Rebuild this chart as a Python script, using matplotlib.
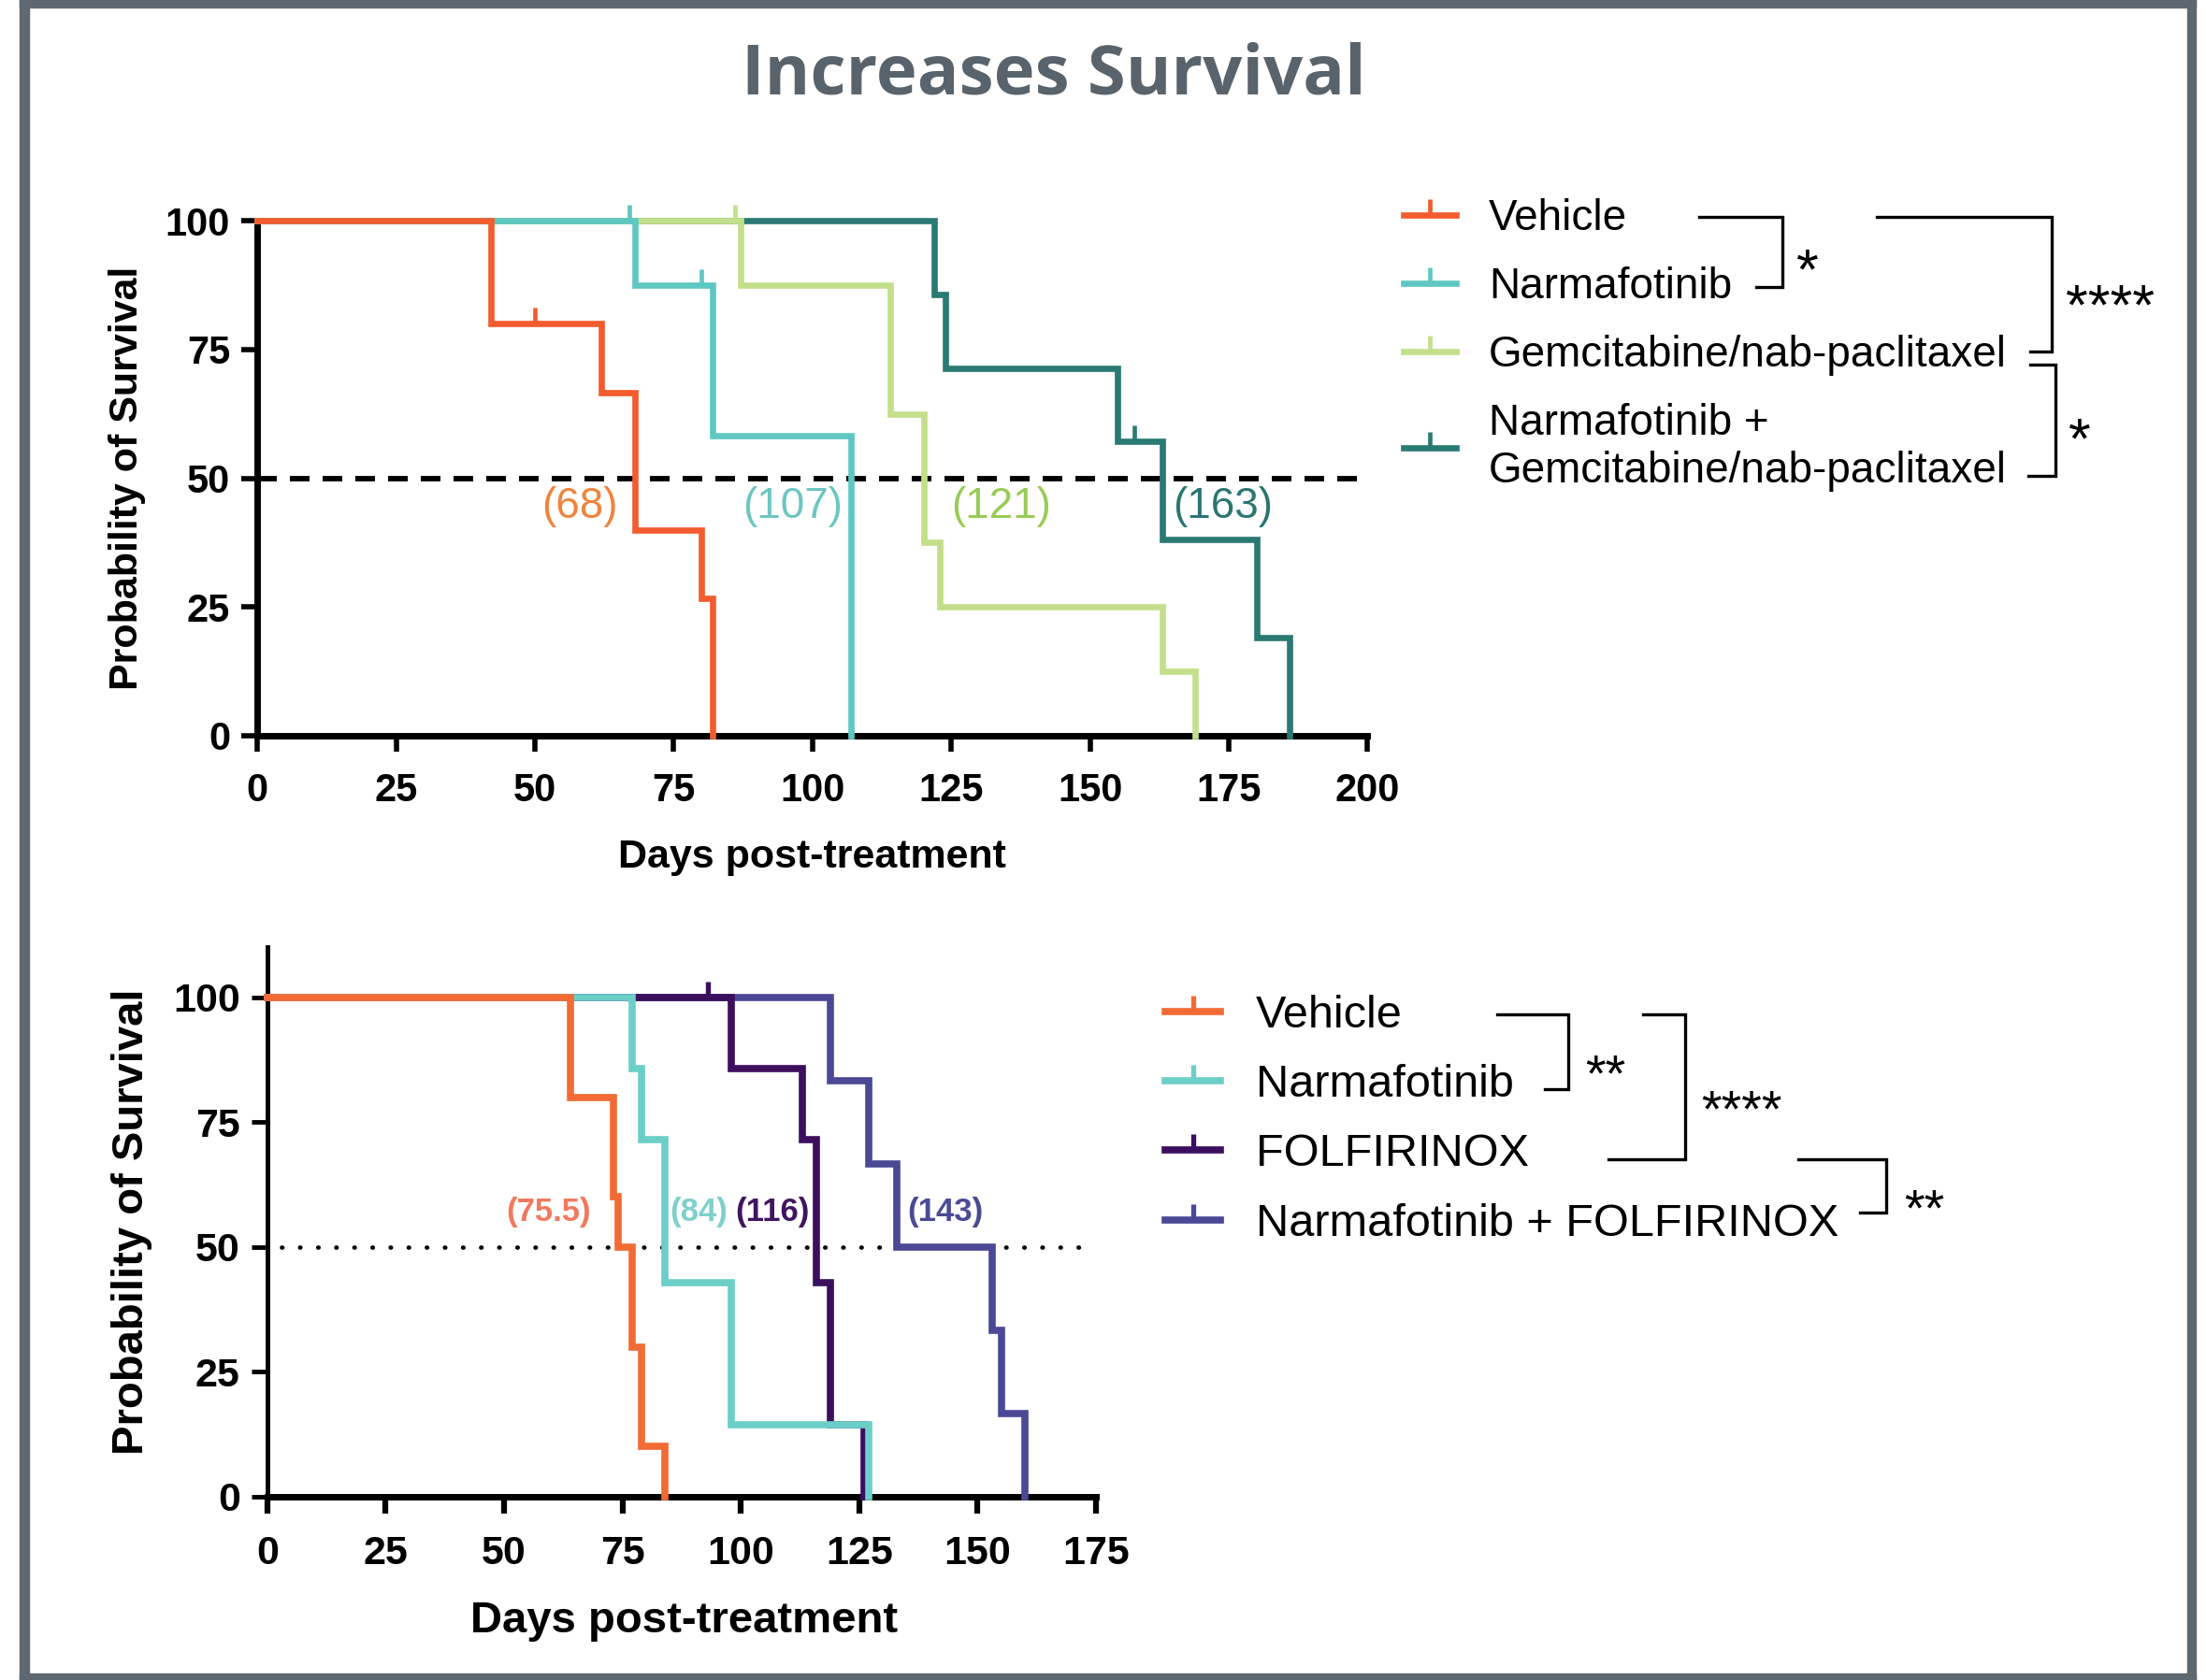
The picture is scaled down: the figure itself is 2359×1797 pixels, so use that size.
import numpy as np
import matplotlib
matplotlib.use("Agg")
import matplotlib.pyplot as plt
from matplotlib.lines import Line2D
from matplotlib.patches import Rectangle

plt.rcParams['font.family'] = ['Liberation Sans', 'DejaVu Sans']

# ---- top panel: gemcitabine/nab-paclitaxel study ----
top_labels = ["Vehicle", "Narmafotinib", "Gemcitabine/nab-paclitaxel",
              "Narmafotinib +\nGemcitabine/nab-paclitaxel"]
top_colors = ['#F25C2E', '#5EC7C2', '#C3DF8B', '#2A7A73']
top_text_colors = ['#F0843C', '#6CC6C2', '#98CB55', '#2B7670']
top_days = [
    [0, 42, 62, 68, 80, 82],
    [0, 68, 82, 107],
    [0, 87, 114, 120, 123, 163, 169],
    [0, 122, 124, 155, 163, 180, 186],
]
top_surv = [
    [100, 80, 66.7, 40, 26.7, 0],
    [100, 87.5, 58.3, 0],
    [100, 87.5, 62.5, 37.5, 25, 12.5, 0],
    [100, 85.7, 71.4, 57.1, 38.1, 19.0, 0],
]
top_censor = [[50], [67, 80], [86], [158]]
top_medians = ["(68)", "(107)", "(121)", "(163)"]
top_median_x = [58, 96.5, 134, 174]
top_xticks = [0, 25, 50, 75, 100, 125, 150, 175, 200]

# ---- bottom panel: FOLFIRINOX study ----
bot_labels = ["Vehicle", "Narmafotinib", "FOLFIRINOX", "Narmafotinib + FOLFIRINOX"]
bot_colors = ['#F26B35', '#6BCFC8', '#3C0F5E', '#4B4996']
bot_text_colors = ['#F07A5E', '#7FD0CB', '#3F1560', '#4B4A94']
bot_days = [
    [0, 64, 73, 74, 77, 79, 84],
    [0, 77, 79, 84, 98, 127],
    [0, 98, 113, 116, 119, 126],
    [0, 119, 127, 133, 153, 155, 160],
]
bot_surv = [
    [100, 80, 60, 50, 30, 10, 0],
    [100, 85.7, 71.4, 42.9, 14.3, 0],
    [100, 85.7, 71.4, 42.9, 14.3, 0],
    [100, 83.3, 66.7, 50, 33.3, 16.7, 0],
]
bot_censor = [[], [], [93], []]
bot_medians = ["(75.5)", "(84)", "(116)", "(143)"]
bot_median_x = [59.4, 91.2, 106.7, 143.2]
bot_xticks = [0, 25, 50, 75, 100, 125, 150, 175]
yticks = [0, 25, 50, 75, 100]


def surv_at(days, surv, t):
    i = np.searchsorted(days, t, side='right') - 1
    return surv[i]


def km_panel(ax, days, surv, censor, colors, lw, tick_size):
    n = len(days)
    for i in range(n):
        z = 10 - i
        ax.step(days[i], surv[i], where='post', color=colors[i], lw=lw,
                solid_joinstyle='miter', zorder=z, clip_on=False)
        if censor[i]:
            cy = [surv_at(days[i], surv[i], t) for t in censor[i]]
            ax.plot(censor[i], cy, ls='none', marker=2, markersize=tick_size,
                    mew=lw * 0.7, color=colors[i], zorder=z, clip_on=False)


fig = plt.figure(figsize=(23.59, 17.97), dpi=100)

# top panel
ax1 = fig.add_axes([0.1167, 0.5621, 0.5032, 0.3065])
km_panel(ax1, top_days, top_surv, top_censor, top_colors, 4.8, 12)
ax1.axhline(50, color='black', lw=4.2, ls=(0, (3.6, 2.4)), zorder=1)
for txt, x, c in zip(top_medians, top_median_x, top_text_colors):
    ax1.text(x, 44.5, txt, color=c, fontsize=33, ha='center', va='center')
ax1.set_xlim(0, 200)
ax1.set_ylim(0, 100)
ax1.set_xticks(top_xticks)
ax1.set_yticks(yticks)
for s in ['top', 'right']:
    ax1.spines[s].set_visible(False)
for s in ['left', 'bottom']:
    ax1.spines[s].set_linewidth(5)
ax1.tick_params(width=4, length=12, labelsize=30, direction='out')
ax1.tick_params(axis='x', pad=16)
ax1.tick_params(axis='y', pad=9)
for lab in ax1.get_xticklabels() + ax1.get_yticklabels():
    lab.set_fontweight('bold')
ax1.set_xlabel("Days post-treatment", fontsize=31, fontweight='bold')
ax1.set_ylabel("Probability of Survival", fontsize=31, fontweight='bold')
ax1.xaxis.set_label_coords(0.4994, -0.2)
ax1.yaxis.set_label_coords(-0.1005, 0.5)
ax1.patch.set_alpha(0)

# bottom panel
ax2 = fig.add_axes([0.1212, 0.1092, 0.3756, 0.3269])
km_panel(ax2, bot_days, bot_surv, bot_censor, bot_colors, 5.5, 12)
ax2.plot([3, 172], [50, 50], color='black', lw=3.4, ls=(0, (0.1, 4.0)),
         dash_capstyle='round', zorder=1)
for txt, x, c in zip(bot_medians, bot_median_x, bot_text_colors):
    ax2.text(x, 57, txt, color=c, fontsize=25, fontweight='bold',
             ha='center', va='center')
ax2.set_xlim(0, 175)
ax2.set_ylim(0, 110)
ax2.set_xticks(bot_xticks)
ax2.set_yticks(yticks)
for s in ['top', 'right']:
    ax2.spines[s].set_visible(False)
ax2.spines['left'].set_linewidth(3.5)
ax2.spines['bottom'].set_linewidth(5)
ax2.tick_params(axis='x', width=4.5, length=13, pad=17, labelsize=31)
ax2.tick_params(axis='y', width=3.5, length=12, pad=9, labelsize=31)
for lab in ax2.get_xticklabels() + ax2.get_yticklabels():
    lab.set_fontweight('bold')
ax2.set_xlabel("Days post-treatment", fontsize=34, fontweight='bold')
ax2.set_ylabel("Probability of Survival", fontsize=34, fontweight='bold')
ax2.xaxis.set_label_coords(0.5025, -0.19)
ax2.yaxis.set_label_coords(-0.139, 0.5)
ax2.patch.set_alpha(0)

# legends
def handles(colors, lw):
    return [Line2D([], [], color=c, lw=lw, marker=2, markersize=12, mew=lw * 0.7)
            for c in colors]

fig.legend(handles(top_colors, 4.8), top_labels, loc='upper left',
           bbox_to_anchor=(998 / 1568, 1 - 141 / 1194), frameon=False,
           borderpad=0, borderaxespad=0, handlelength=1.22, handletextpad=0.76,
           labelspacing=0.63, fontsize=33, numpoints=1)
fig.legend(handles(bot_colors, 5.5), bot_labels, loc='upper left',
           bbox_to_anchor=(828 / 1568, 1 - 707 / 1194), frameon=False,
           borderpad=0, borderaxespad=0, handlelength=1.23, handletextpad=0.77,
           labelspacing=0.6, fontsize=35, numpoints=1)

# overlay in reference pixel units: frame, title, significance brackets
ov = fig.add_axes([0, 0, 1, 1], zorder=5)
ov.set_xlim(0, 1568)
ov.set_ylim(1194, 0)
ov.axis('off')

frame_c = '#5E6870'
ov.add_patch(Rectangle((14, 0), 6.5, 1194, color=frame_c))
ov.add_patch(Rectangle((14, 0), 1547, 5.5, color=frame_c))
ov.add_patch(Rectangle((1555, 0), 6, 1194, color=frame_c))
ov.add_patch(Rectangle((14, 1189.5), 1547, 4.5, color=frame_c))

ov.text(749, 54, "Increases Survival", ha='center', va='center', fontsize=53.5,
        fontweight='bold', color='#59636B', family=['Open Sans', 'DejaVu Sans'])

brackets = [
    ([1208, 1267, 1267, 1248], [154, 154, 204, 204]),
    ([1334, 1458, 1458, 1443], [154, 154, 250, 250]),
    ([1443, 1461, 1461, 1442], [259, 259, 338, 338]),
    ([1064, 1115, 1115, 1098], [721, 721, 774, 774]),
    ([1168, 1198, 1198, 1143], [721, 721, 824, 824]),
    ([1278, 1341, 1341, 1322], [824, 824, 862, 862]),
]
for bx, by in brackets:
    ov.plot(bx, by, color='black', lw=2.4, solid_joinstyle='miter')

stars_top = [("*", 1285, 180), ("****", 1500, 205), ("*", 1478, 300)]
stars_bot = [("**", 1141, 752), ("****", 1238, 777), ("**", 1368, 848)]
for s, x, y in stars_top:
    ov.text(x, y + 25, s, ha='center', va='baseline', fontsize=44, color='black')
for s, x, y in stars_bot:
    ov.text(x, y + 23, s, ha='center', va='baseline', fontsize=40, color='black')

fig.savefig("out.png", dpi=100, facecolor='white')
